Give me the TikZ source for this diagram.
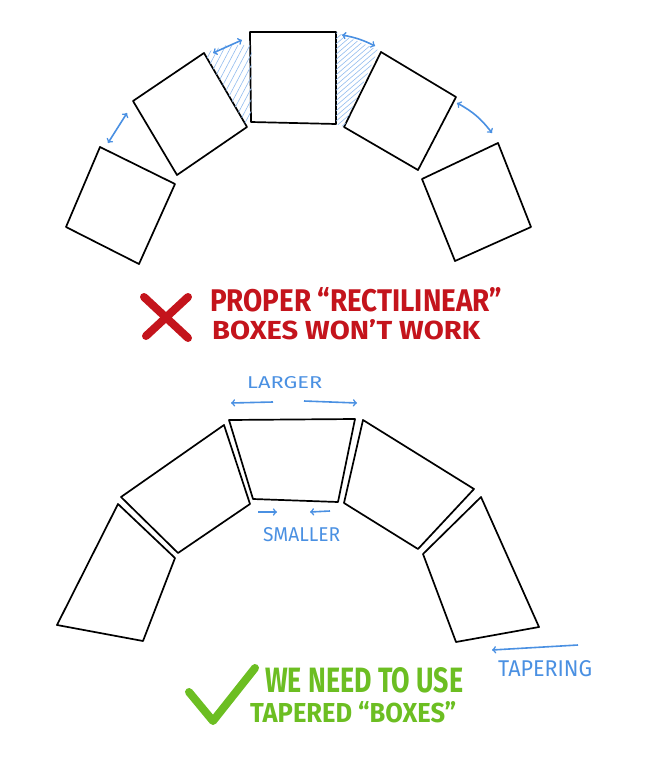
\documentclass[tikz,border=0pt]{standalone}
\usepackage{fontspec}
\setmainfont{Fira Sans}
\usepackage{graphicx}
\usetikzlibrary{arrows}
\definecolor{sketchblue}{RGB}{74,144,226}
\definecolor{sketchred}{RGB}{196,20,28}
\definecolor{sketchgreen}{RGB}{108,190,34}
\tikzstyle{boxline}=[draw,line width=1.7pt,line join=round]
\tikzstyle{dimarrow}=[draw,sketchblue,line width=1.6pt,>=to]
\tikzstyle{hatch}=[draw,sketchblue!60,line width=0.6pt]
\tikzstyle{markstroke}=[line width=8pt,line cap=round,line join=round]
\tikzstyle{note}=[inner sep=0pt,anchor=south west]
\newcommand{\fitword}[3]{\resizebox{#1pt}{#2pt}{#3}}

\begin{document}
\begin{tikzpicture}[x=1pt,y=-1pt]
    \path[use as bounding box] (0,0) rectangle (656,768);

    % Top row: five square boxes on an arc
    \foreach \name/\a/\b/\c/\d in {{t1/(100,147)/(175,184)/(139,264)/(66,227)},
        {t2/(133,101)/(204,53)/(247,127)/(177,175)},
        {t3/(250,32)/(336,32)/(336,124)/(251,122)},
        {t4/(381,52)/(456,97)/(418,170)/(344,127)},
        {t5/(498,143)/(531,227)/(455,261)/(422,179)}}
        \draw[boxline] \a coordinate (\name-1) -- \b coordinate (\name-2)
            -- \c coordinate (\name-3) -- \d coordinate (\name-4) -- cycle;

    % Hatched wedges either side of the middle box
    \begin{scope}
        \clip (t2-2) -- (252,36) -- (t3-4) -- (t2-3) -- cycle;
        \foreach \x in {140,146,...,270}
            \draw[hatch] (\x,140) -- ++(50,-95);
    \end{scope}
    \begin{scope}
        \clip (t3-2) -- (378,50) -- (t4-4) -- (t3-3) -- cycle;
        \foreach \x in {200,206,...,360}
            \draw[hatch] (\x,140) -- ++(140,-120);
    \end{scope}

    % Gap arrows in the top row
    \foreach \name/\pos in {{ga1/(108,143)}, {ga2/(127,113)}, {gb1/(213,53)}, {gb2/(242,40)},
        {gc1/(342,35)}, {gc2/(375,46)}, {gd1/(457,103)}, {gd2/(492,133)}}
        \path \pos coordinate (\name);
    \draw[dimarrow,<->] (ga1) -- (ga2);
    \draw[dimarrow,<->] (gb1) -- (gb2);
    \draw[dimarrow,<->] (gc1) to[bend left=8] (gc2);
    \draw[dimarrow,<->] (gd1) to[bend left=12] (gd2);

    % Red cross and caption
    \draw[markstroke,sketchred] (144,297) -- (188,338) (188,297) -- (146,336);
    \node[note,sketchred] (wrong1) at (210,312) {\fitword{292}{24}{\bfseries PROPER ``RECTILINEAR''}};
    \node[note,sketchred] (wrong2) at (212,340) {\fitword{268}{20}{\bfseries BOXES WON'T WORK}};

    % Bottom row: five tapered boxes
    \foreach \name/\a/\b/\c/\d in {{b1/(118,504)/(175,558)/(143,641)/(57,625)},
        {b2/(224,425)/(250,504)/(178,553)/(121,497)},
        {b3/(229,420)/(355,419)/(338,502)/(253,499)},
        {b4/(363,420)/(474,489)/(418,549)/(344,503)},
        {b5/(481,497)/(539,627)/(456,642)/(423,554)}}
        \draw[boxline] \a coordinate (\name-1) -- \b coordinate (\name-2)
            -- \c coordinate (\name-3) -- \d coordinate (\name-4) -- cycle;

    % Blue labels and arrows of the bottom row
    \node[note,sketchblue] (larger) at (247,389) {\fitword{75}{12}{LARGER}};
    \node[note,sketchblue] (smaller) at (263,542) {\fitword{77}{14}{SMALLER}};
    \node[note,sketchblue] (tapering) at (498,677) {\fitword{94}{16}{TAPERING}};
    \foreach \name/\pos in {{la1/(273,402)}, {la2/(231,403)}, {lb1/(304,401)}, {lb2/(357,403)},
        {sa1/(258,512)}, {sa2/(277,512)}, {sb1/(330,511)}, {sb2/(310,512)},
        {ta1/(578,645)}, {ta2/(492,650)}}
        \path \pos coordinate (\name);
    \foreach \source/\dest in {la1/la2, lb1/lb2, sa1/sa2, sb1/sb2, ta1/ta2}
        \draw[dimarrow,->] (\source) -- (\dest);

    % Green tick and caption
    \draw[markstroke,sketchgreen] (189,692) -- (213,721) -- (255,668);
    \node[note,sketchgreen] (right1) at (265,693) {\fitword{198}{25}{\bfseries WE NEED TO USE}};
    \node[note,sketchgreen] (right2) at (250,723) {\fitword{206}{21}{\bfseries TAPERED ``BOXES''}};
\end{tikzpicture}
\end{document}
